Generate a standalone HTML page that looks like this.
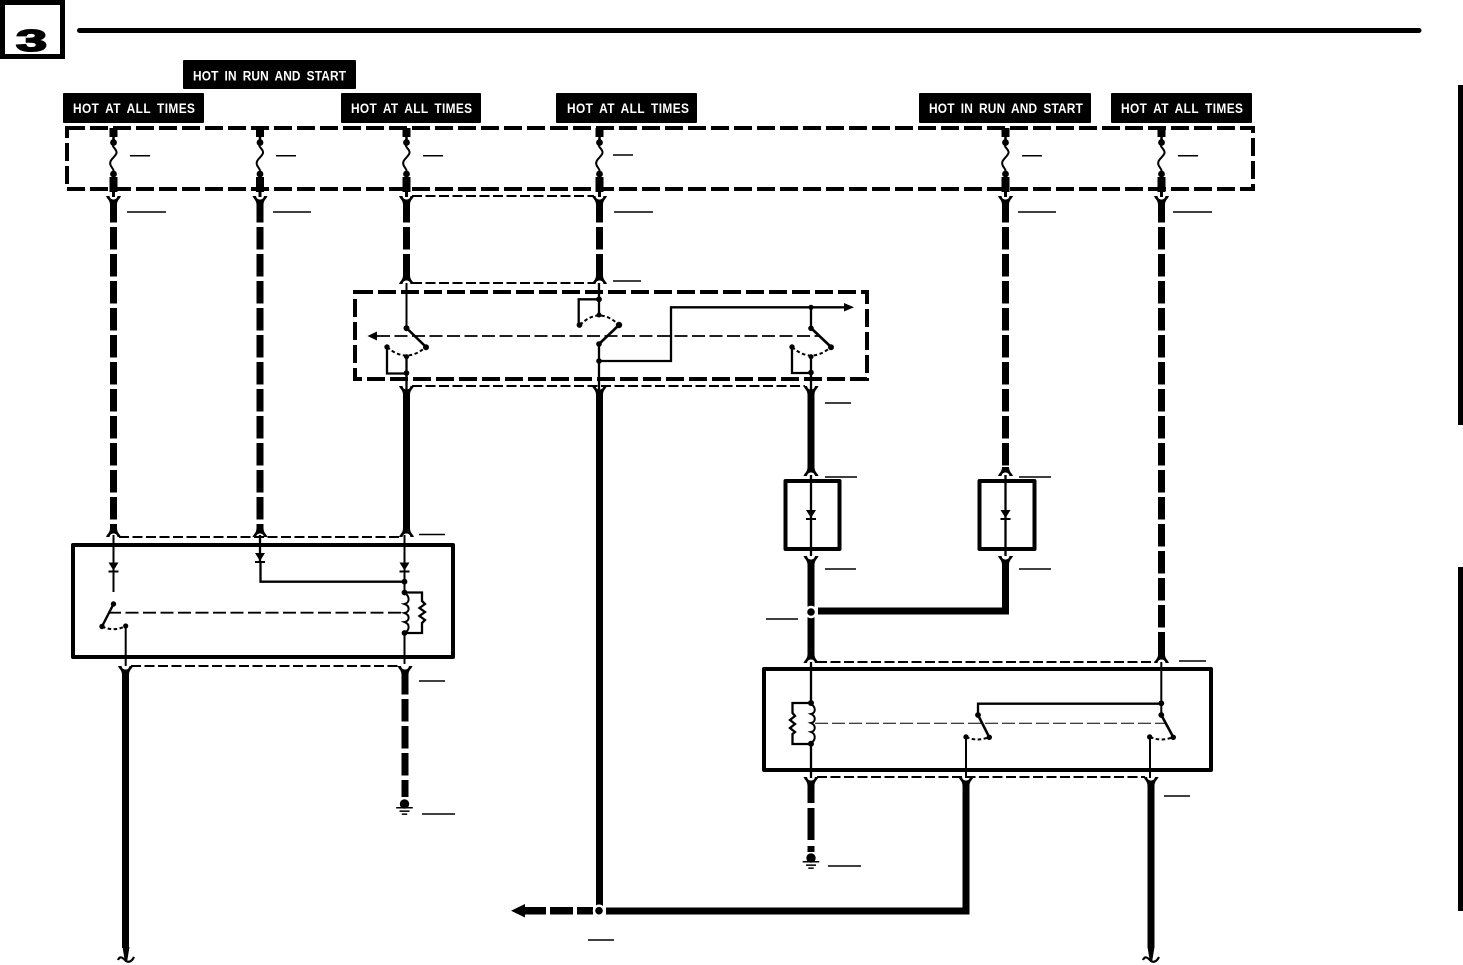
<!DOCTYPE html>
<html>
<head>
<meta charset="utf-8">
<style>
html,body{margin:0;padding:0;background:#fff;width:1463px;height:965px;overflow:hidden}
svg{display:block}
.lb{font-family:"Liberation Sans",sans-serif;font-size:14px;font-weight:bold;fill:#fff;word-spacing:3px}
.w{fill:none;stroke:#000;stroke-width:7}
.wd{fill:none;stroke:#000;stroke-width:7;stroke-dasharray:22.5 4.5}
.t{fill:none;stroke:#000;stroke-width:2}
.m{fill:none;stroke:#000;stroke-width:2.3}
.td{fill:none;stroke:#000;stroke-width:2;stroke-dasharray:10 3.5}
.hd{fill:none;stroke:#000;stroke-width:1.8;stroke-dasharray:13 4.5}
.ad{fill:none;stroke:#000;stroke-width:2;stroke-dasharray:3.5 2.5}
.bd{fill:none;stroke:#000;stroke-width:4;stroke-dasharray:18 5}
.bx{fill:none;stroke:#000;stroke-width:4;stroke-linejoin:round}
.u{stroke:#000;stroke-width:1.5}
</style>
</head>
<body>
<svg width="1463" height="965" viewBox="0 0 1463 965" xmlns="http://www.w3.org/2000/svg">
<defs>
<g id="fd"><path d="M-7.5,0 L-4,0 C-3.5,2.5 -2,3.5 0,3.5 C2,3.5 3.5,2.5 4,0 L7.5,0 C6.5,3 3.5,4 3.5,9 L-3.5,9 C-3.5,4 -6.5,3 -7.5,0 Z" fill="#000"/></g>
<g id="fu"><path d="M-7.5,0 L-4,0 C-3.5,-2.5 -2,-3.5 0,-3.5 C2,-3.5 3.5,-2.5 4,0 L7.5,0 C6.5,-3 3.5,-4 3.5,-9 L-3.5,-9 C-3.5,-4 -6.5,-3 -7.5,0 Z" fill="#000"/></g>
<g id="fs">
<rect x="-4" y="128" width="8" height="9" fill="#000"/>
<line x1="0" y1="137" x2="0" y2="143" stroke="#000" stroke-width="2.5"/>
<circle cx="0" cy="142.5" r="3.4"/>
<path d="M0,143 C-3,147 4,149 3,153 C2,157 -5,160 -3,165 C-2,168 1,169 0,174" fill="none" stroke="#000" stroke-width="2"/>
<circle cx="0" cy="174" r="3.4"/>
<rect x="-4" y="177" width="8" height="15" fill="#000"/>
<line x1="0" y1="190" x2="0" y2="197" stroke="#000" stroke-width="3"/>
</g>
<g id="dd"><path d="M-5,-8 L5,-8 L0,0 Z" fill="#000"/><rect x="-5" y="0" width="10" height="2" fill="#000"/></g>
<g id="gn"><circle cx="0" cy="0" r="4.7"/><rect x="-8.3" y="3" width="16.6" height="1.5"/><rect x="-5" y="6.4" width="10" height="1.5"/><rect x="-2.7" y="9.4" width="5.4" height="1.5"/></g>
<g id="tail"><path d="M-8,-1 C-6,-6 -3,-3 0,0 C3,2 6,0 8,-4" fill="none" stroke="#000" stroke-width="2.2"/><path d="M-3.5,-14 L3.5,-14 L1.2,0 L-1.2,0 Z" fill="#000"/></g>
</defs>

<rect width="1463" height="965" fill="#fff"/>

<!-- page number badge -->
<rect x="2.5" y="2.5" width="60" height="54" fill="#fff" stroke="#000" stroke-width="5"/>
<text transform="translate(31.5,51) scale(1.8,1)" text-anchor="middle" font-family="'Liberation Sans',sans-serif" font-size="31" font-weight="bold" stroke="#000" stroke-width="1.6">3</text>
<line x1="79.5" y1="30.5" x2="1419" y2="30.5" stroke="#000" stroke-width="5" stroke-linecap="round"/>
<rect x="1458" y="85" width="5" height="340"/>
<rect x="1458" y="567" width="5" height="344"/>

<!-- labels -->
<rect x="183" y="60" width="173" height="29" rx="1"/>
<text class="lb" transform="translate(193,80.7) scale(.85,1)" textLength="180" lengthAdjust="spacing">HOT IN RUN AND START</text>
<rect x="63" y="93" width="141" height="30" rx="1"/>
<text class="lb" transform="translate(73,113) scale(.85,1)" textLength="143.5" lengthAdjust="spacing">HOT AT ALL TIMES</text>
<rect x="341" y="93" width="140" height="30" rx="1"/>
<text class="lb" transform="translate(351,113) scale(.85,1)" textLength="142.5" lengthAdjust="spacing">HOT AT ALL TIMES</text>
<rect x="556" y="93" width="141" height="30" rx="1"/>
<text class="lb" transform="translate(567,113) scale(.85,1)" textLength="143.5" lengthAdjust="spacing">HOT AT ALL TIMES</text>
<rect x="919" y="93" width="172" height="30" rx="1"/>
<text class="lb" transform="translate(929,113) scale(.85,1)" textLength="181" lengthAdjust="spacing">HOT IN RUN AND START</text>
<rect x="1111" y="93" width="141" height="30" rx="1"/>
<text class="lb" transform="translate(1121,113) scale(.85,1)" textLength="143.5" lengthAdjust="spacing">HOT AT ALL TIMES</text>

<!-- dashed boxes -->
<rect class="bd" x="67" y="128" width="1186" height="61"/>
<rect class="bd" x="355" y="292" width="512" height="87"/>

<!-- fuses -->
<use href="#fs" x="113.5"/><use href="#fs" x="260"/><use href="#fs" x="406.5"/>
<use href="#fs" x="599.5"/><use href="#fs" x="1005.5"/><use href="#fs" x="1161.5"/>

<!-- wires, upper -->
<line class="wd" x1="113.5" y1="200" x2="113.5" y2="530"/>
<line class="wd" x1="260" y1="200" x2="260" y2="530"/>
<line class="wd" x1="406.5" y1="200" x2="406.5" y2="278"/>
<line class="wd" x1="599.5" y1="200" x2="599.5" y2="278"/>
<line class="wd" x1="1005.5" y1="200" x2="1005.5" y2="470"/>
<line class="wd" x1="1161.5" y1="200" x2="1161.5" y2="656"/>
<use href="#fd" x="113.5" y="196"/><use href="#fd" x="260" y="196"/><use href="#fd" x="406.5" y="196"/>
<use href="#fd" x="599.5" y="196"/><use href="#fd" x="1005.5" y="196"/><use href="#fd" x="1161.5" y="196"/>
<line class="td" x1="412" y1="196" x2="594" y2="196"/>
<use href="#fu" x="406.5" y="284"/><use href="#fu" x="599.5" y="284"/>
<line class="td" x1="412" y1="283" x2="594" y2="283"/>

<!-- switch assembly -->
<line class="t" x1="406.5" y1="283" x2="406.5" y2="328"/>
<line class="m" x1="599" y1="283" x2="599" y2="316"/>
<path class="ad" d="M387,347 Q406,364 426,347"/>
<line x1="406.5" y1="328" x2="426" y2="347" stroke="#000" stroke-width="2.6"/>
<circle cx="406.5" cy="328.3" r="3"/><circle cx="426" cy="347.3" r="3"/><circle cx="387" cy="347" r="2.7"/><circle cx="406.5" cy="356.7" r="2.5"/>
<path class="m" d="M406.5,357 V390 M387,347 V373.5 H406.5"/>
<circle cx="406.5" cy="373" r="2.8"/>

<path class="m" d="M599,299.3 H578.7 V325"/>
<circle cx="599" cy="299.3" r="2.9"/><circle cx="599" cy="315" r="2.5"/>
<path class="ad" d="M580,325 Q599,306 619,325"/>
<line x1="599" y1="344" x2="619" y2="325" stroke="#000" stroke-width="2.6"/>
<circle cx="579.5" cy="325" r="2.9"/><circle cx="619" cy="325" r="3.2"/><circle cx="599" cy="344" r="2.8"/>
<path class="m" d="M599,344 V390 M599,361 H671 V307.3 H846"/>
<circle cx="599" cy="361" r="2.8"/>
<path d="M854,307.3 L844,303 L844,311.5 Z"/>

<circle cx="811" cy="307.3" r="2.6"/>
<line class="m" x1="811" y1="307" x2="811" y2="328"/>
<line x1="811" y1="328" x2="831" y2="347" stroke="#000" stroke-width="2.6"/>
<circle cx="811" cy="328.3" r="2.8"/><circle cx="831" cy="347.3" r="3"/><circle cx="792" cy="347" r="2.7"/><circle cx="811" cy="356.7" r="2.5"/>
<path class="ad" d="M792,347 Q811,364 831,347"/>
<path class="m" d="M811,357 V390 M792,347 V373 H811"/>
<circle cx="811" cy="372.5" r="2.8"/>
<line class="hd" x1="377" y1="336" x2="820" y2="336" stroke-width="2"/>
<path d="M367.5,336 L377,331.5 L377,340.5 Z"/>

<!-- lower wires from switch -->
<use href="#fd" x="406.5" y="386"/><use href="#fd" x="599.5" y="386"/><use href="#fd" x="811" y="386"/>
<line class="td" x1="412" y1="386" x2="805" y2="386"/>
<line class="w" x1="406.5" y1="392" x2="406.5" y2="530"/>
<line class="w" x1="599.5" y1="392" x2="599.5" y2="908"/>
<line class="w" x1="811" y1="392" x2="811" y2="470"/>

<!-- left module -->
<rect class="bx" x="73" y="545" width="380" height="112"/>
<use href="#fu" x="113.5" y="537"/><use href="#fu" x="260" y="537"/><use href="#fu" x="406.5" y="537"/>
<line class="td" x1="119" y1="537" x2="401" y2="537"/>
<line class="t" x1="113.5" y1="535" x2="113.5" y2="592"/>
<use href="#dd" x="113.5" y="570.5"/>
<line class="m" x1="260" y1="535" x2="260" y2="562"/>
<use href="#dd" x="260" y="561"/>
<path class="m" d="M260.5,562 V581.7 H404.5"/>
<line class="t" x1="404.5" y1="535" x2="404.5" y2="592"/>
<use href="#dd" x="404.5" y="570.5"/>
<circle cx="404.5" cy="581.7" r="2.9"/><circle cx="404.5" cy="592.5" r="2.9"/>
<path d="M404.5,593 C410,596 410,603 404.5,604 C410,606 410,612 404.5,613 C410,615 410,621 404.5,622 C410,624 410,630 404.5,633" fill="none" stroke="#000" stroke-width="2"/>
<path class="m" d="M404.5,592.5 H422 V601 L425,604 L419.5,608 L425,612 L419.5,616 L425,620 L422,623 V633 H404.5"/>
<circle cx="404.5" cy="633" r="2.9"/>
<line class="t" x1="404.5" y1="633" x2="404.5" y2="664"/>
<line class="hd" x1="108" y1="612.7" x2="401" y2="612.7"/>
<circle cx="113.5" cy="604" r="2.7"/>
<line x1="113.5" y1="604" x2="102" y2="626.5" stroke="#000" stroke-width="2.4"/>
<circle cx="102" cy="626.5" r="2.7"/><circle cx="125.7" cy="626" r="2.6"/>
<path class="ad" d="M102,626.5 Q114,632 125.7,626"/>
<line class="t" x1="125.7" y1="626" x2="125.7" y2="666"/>
<use href="#fd" x="125.5" y="666"/><use href="#fd" x="405" y="666"/>
<line class="td" x1="131" y1="666" x2="399" y2="666"/>
<line class="w" x1="125.5" y1="672" x2="125.5" y2="948"/>
<line class="wd" x1="405" y1="672" x2="405" y2="797"/>
<use href="#gn" x="404.5" y="804"/>
<use href="#tail" x="126" y="961"/>

<!-- diode boxes -->
<use href="#fu" x="811" y="476"/><use href="#fu" x="1005.5" y="476"/>
<rect class="bx" x="785.5" y="481" width="54" height="68" stroke-width="3.5"/>
<rect class="bx" x="979.5" y="481" width="55" height="68" stroke-width="3.5"/>
<line class="m" x1="811" y1="475" x2="811" y2="556"/>
<line class="m" x1="1005.5" y1="475" x2="1005.5" y2="556"/>
<use href="#dd" x="811" y="518"/><use href="#dd" x="1005.5" y="518"/>
<use href="#fd" x="811" y="556"/><use href="#fd" x="1005.5" y="556"/>
<path class="w" d="M1005.5,562 V611 H818"/>
<line class="w" x1="811" y1="562" x2="811" y2="656"/>
<circle cx="811" cy="612" r="6.2" fill="#fff"/><circle cx="811" cy="612" r="3.8"/>

<!-- right relay -->
<use href="#fu" x="811" y="663"/><use href="#fu" x="1161.5" y="663"/>
<line class="td" x1="817" y1="662" x2="1156" y2="662"/>
<rect class="bx" x="764" y="669" width="447" height="101"/>
<line class="m" x1="811" y1="662" x2="811" y2="703"/>
<line class="m" x1="811" y1="744" x2="811" y2="778"/>
<line class="t" x1="1161.3" y1="662" x2="1161.3" y2="715"/>
<circle cx="811" cy="703" r="3"/><circle cx="811" cy="743.7" r="3"/>
<path d="M811,704 C816,707 816,713 811,714 C816,716 816,722 811,723 C816,725 816,731 811,732 C816,734 816,740 811,743" fill="none" stroke="#000" stroke-width="2"/>
<path class="m" d="M811,703 H792.5 V713 L795,716 L790,720 L795,724 L790,728 L795,732 L792.5,734 V744 H811"/>
<line x1="815" y1="723.3" x2="1165" y2="723.3" stroke="#000" stroke-width="1" stroke-dasharray="13 4"/>
<path class="m" d="M978,715 V703.7 H1161"/>
<circle cx="1161.3" cy="703.3" r="2.9"/>
<circle cx="978" cy="715" r="2.9"/><circle cx="1161.3" cy="715" r="2.9"/>
<line x1="978" y1="715" x2="989.3" y2="737.3" stroke="#000" stroke-width="2.6"/>
<line x1="1161.3" y1="715" x2="1173.3" y2="737.3" stroke="#000" stroke-width="2.6"/>
<circle cx="989.3" cy="737.3" r="2.7"/><circle cx="1173.3" cy="737.3" r="2.7"/>
<circle cx="966" cy="737" r="2.7"/><circle cx="1149.7" cy="737" r="2.7"/>
<path class="ad" d="M966,737 Q978,742 989,737"/>
<path class="ad" d="M1150,737 Q1162,742 1173,737"/>
<line class="t" x1="966" y1="737" x2="966" y2="778"/>
<line class="t" x1="1150" y1="737" x2="1150" y2="778"/>
<use href="#fd" x="811" y="777"/><use href="#fd" x="966" y="777"/><use href="#fd" x="1151" y="777"/>
<line class="td" x1="817" y1="777" x2="1145" y2="777"/>
<line class="w" x1="811" y1="783" x2="811" y2="803"/>
<line class="w" x1="811" y1="808" x2="811" y2="840"/>
<line class="w" x1="811" y1="846" x2="811" y2="852"/>
<use href="#gn" x="811" y="858"/>
<path class="w" d="M966,783 V911 H606" stroke-width="7.5"/>
<line class="w" x1="1151" y1="783" x2="1151" y2="948"/>
<use href="#tail" x="1151" y="961"/>

<!-- bottom arrow -->
<path d="M511,910.7 L525,904 L525,917.5 Z"/>
<rect x="525" y="907" width="21" height="7.5"/>
<rect x="550" y="907" width="23" height="7.5"/>
<rect x="577" y="907" width="16" height="7.5"/>
<circle cx="599" cy="910.7" r="6.2" fill="#fff"/><circle cx="599" cy="910.7" r="3.8"/>

<!-- blanked reference lines -->
<g class="u">
<line x1="130" x2="150" y1="155.7" y2="155.7"/><line x1="276" x2="296" y1="155.7" y2="155.7"/>
<line x1="423" x2="443" y1="155.7" y2="155.7"/><line x1="613" x2="633" y1="155" y2="155"/>
<line x1="1022" x2="1042" y1="155.7" y2="155.7"/><line x1="1178" x2="1198" y1="155.7" y2="155.7"/>
<line x1="127" x2="166" y1="212" y2="212"/><line x1="273" x2="311" y1="212" y2="212"/>
<line x1="614" x2="653" y1="212" y2="212"/><line x1="1018" x2="1056" y1="212" y2="212"/>
<line x1="1173" x2="1212" y1="212" y2="212"/><line x1="613" x2="641" y1="281" y2="281"/>
<line x1="825" x2="851" y1="403" y2="403"/><line x1="419" x2="445" y1="534.5" y2="534.5"/>
<line x1="419" x2="445" y1="681" y2="681"/><line x1="422" x2="455" y1="814" y2="814"/>
<line x1="825" x2="857" y1="477" y2="477"/><line x1="1019" x2="1051" y1="477" y2="477"/>
<line x1="825" x2="856" y1="569" y2="569"/><line x1="1019" x2="1051" y1="569" y2="569"/>
<line x1="766" x2="798" y1="619" y2="619"/><line x1="1179" x2="1206" y1="661" y2="661"/>
<line x1="1164" x2="1190" y1="796" y2="796"/><line x1="828" x2="861" y1="866" y2="866"/>
<line x1="588" x2="614" y1="940" y2="940"/>
</g>
</svg>
</body>
</html>
